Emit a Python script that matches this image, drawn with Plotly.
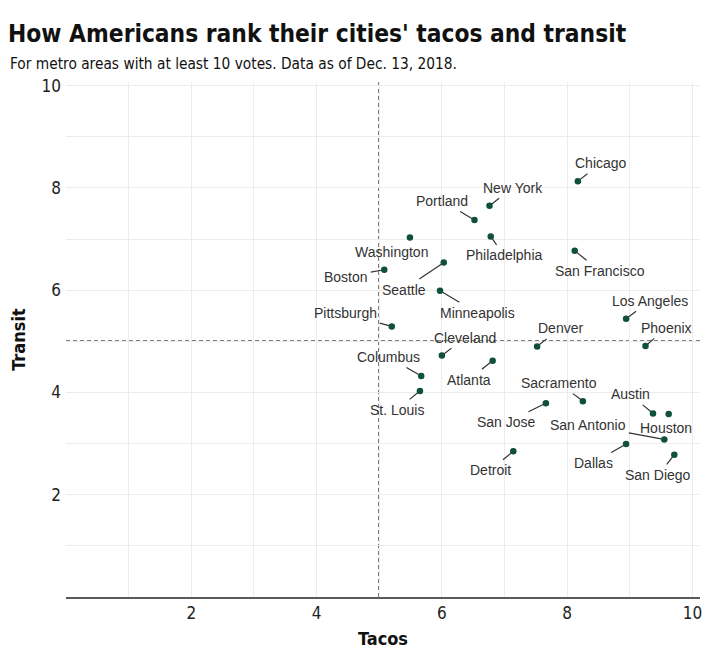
import plotly.graph_objects as go

# ---------------- data ----------------
cities = ["Chicago", "New York", "Portland", "Philadelphia", "Washington",
          "San Francisco", "Seattle", "Boston", "Minneapolis", "Los Angeles",
          "Pittsburgh", "Denver", "Phoenix", "Cleveland", "Atlanta",
          "Columbus", "St. Louis", "Sacramento", "San Jose", "Austin",
          "Houston", "San Antonio", "Dallas", "San Diego", "Detroit"]
tacos = [8.17, 6.76, 6.52, 6.78, 5.49,
         8.12, 6.03, 5.08, 5.97, 8.94,
         5.20, 7.52, 9.25, 6.00, 6.81,
         5.67, 5.65, 8.25, 7.66, 9.37,
         9.62, 9.55, 8.94, 9.71, 7.14]
transit = [8.13, 7.65, 7.37, 7.05, 7.03,
           6.77, 6.54, 6.40, 5.99, 5.44,
           5.29, 4.90, 4.91, 4.72, 4.62,
           4.32, 4.03, 3.83, 3.79, 3.59,
           3.58, 3.08, 2.99, 2.78, 2.85]
x_ticks = [2, 4, 6, 8, 10]
y_ticks = [2, 4, 6, 8, 10]
midpoint = 5

title = "How Americans rank their cities' tacos and transit"
subtitle = "For metro areas with at least 10 votes. Data as of Dec. 13, 2018."

# ---------------- label placement (pixel offsets, layout only) ----------------
offsets = {
    "Chicago": (23, -18), "New York": (23, -18), "Portland": (-32, -19),
    "Philadelphia": (13, 19), "Washington": (-18, 15), "San Francisco": (25, 20),
    "Seattle": (-40, 27), "Boston": (-38, 7), "Minneapolis": (37, 22),
    "Los Angeles": (24, -18), "Pittsburgh": (-46, -13), "Denver": (23, -18),
    "Phoenix": (21, -18), "Cleveland": (23, -18), "Atlanta": (-24, 19),
    "Columbus": (-33, -19), "St. Louis": (-23, 19), "Sacramento": (-24, -18),
    "San Jose": (-39, 19), "Austin": (-23, -19), "Houston": (-3, 14),
    "San Antonio": (-76, -14), "Dallas": (-33, 19), "San Diego": (-16, 20),
    "Detroit": (-23, 19),
}
no_leader = {"Washington", "Houston"}

COND = "DejaVu Sans Condensed, sans-serif"
LABEL = "Liberation Sans, Arial, sans-serif"

fig = go.Figure()
fig.add_trace(go.Scatter(
    x=tacos, y=transit, mode="markers", text=cities,
    marker=dict(size=6.5, color="#0f4f3d"),
    hoverinfo="text", showlegend=False,
))

annotations = []
for c, xv, yv in zip(cities, tacos, transit):
    ax, ay = offsets[c]
    if c in no_leader:
        annotations.append(dict(x=xv, y=yv, xref="x", yref="y", text=c,
                                showarrow=False, xshift=ax, yshift=-ay,
                                font=dict(family=LABEL, size=14, color="#333333")))
    else:
        annotations.append(dict(x=xv, y=yv, xref="x", yref="y", text=c,
                                showarrow=True, ax=ax, ay=ay, arrowhead=0,
                                arrowwidth=1.2, arrowcolor="#333333", standoff=3,
                                borderpad=2,
                                font=dict(family=LABEL, size=14, color="#333333")))

annotations.append(dict(xref="paper", yref="paper", x=-0.0915, y=1.034,
                        xanchor="left", yanchor="middle", showarrow=False,
                        text=subtitle,
                        font=dict(family=COND, size=15.3, color="#111111")))

shapes = [
    dict(type="line", xref="x", yref="paper", x0=midpoint, x1=midpoint, y0=0, y1=1,
         line=dict(color="#000000", width=1.5, dash="4px,3px"), layer="between"),
    dict(type="line", xref="paper", yref="y", x0=0, x1=1, y0=midpoint, y1=midpoint,
         line=dict(color="#000000", width=1.5, dash="4px,3px"), layer="between"),
]

grid = "#ececec"
# page body has an 8px margin, so the figure is 8px smaller and shifted
fig.update_layout(
    width=702, height=641,
    margin=dict(l=58, r=10, t=74, b=52, autoexpand=False),
    paper_bgcolor="white", plot_bgcolor="white",
    title=dict(text="<b>" + title + "</b>", xref="container", x=0,
               xanchor="left", yref="container", y=1 - 25 / 641, yanchor="middle",
               font=dict(family=COND, size=24.3, color="#111111")),
    annotations=annotations,
    shapes=shapes,
    xaxis=dict(range=[0, 10.12], tickvals=x_ticks, showgrid=True, gridcolor=grid,
               gridwidth=1, zeroline=False, showline=True, linecolor="#5a5a5a",
               linewidth=2, ticks="", automargin=False,
               tickfont=dict(family=COND, size=17, color="#222222"),
               minor=dict(dtick=1, tick0=0, showgrid=True, gridcolor=grid, gridwidth=1),
               title=dict(text="<b>Tacos</b>", font=dict(family=COND, size=18, color="#111111"),
                          standoff=18)),
    yaxis=dict(range=[0, 10.07], tickvals=y_ticks, showgrid=True, gridcolor=grid,
               gridwidth=1, zeroline=False, showline=False, ticks="", automargin=False,
               ticklabelstandoff=4,
               tickfont=dict(family=COND, size=17, color="#222222"),
               minor=dict(dtick=1, tick0=0, showgrid=True, gridcolor=grid, gridwidth=1),
               title=dict(text="<b>Transit</b>", font=dict(family=COND, size=18, color="#111111"),
                          standoff=19)),
)

fig.write_html("out.html")
